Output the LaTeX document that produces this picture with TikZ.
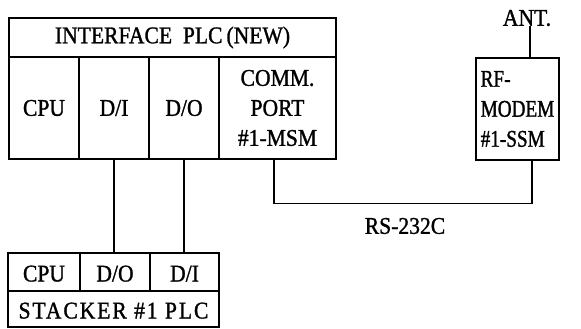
\documentclass[tikz,border=0pt]{standalone}
\usepackage{fontspec}
\setmainfont{Liberation Serif}[FakeStretch=0.9, FakeBold=1.2]
\newfontfamily\narrowfont{Liberation Serif}[FakeStretch=0.8, FakeBold=1.2]
\begin{document}
\begin{tikzpicture}[x=1pt,y=-1pt,
  every node/.style={font=\fontsize{24}{30}\selectfont},
  cell/.style={draw, line width=1.2pt, inner sep=0pt, minimum height=#1},
  wire/.style={line width=1.2pt},
  lowtext/.style={text height=19pt, text depth=0pt}]
\useasboundingbox (0,0) rectangle (581,329);
% Interface PLC
\node[cell=39pt, minimum width=327pt] (title) at (172.5,37.5) {INTERFACE\ \ PLC\,(NEW)};
\node[cell=102pt, minimum width=70pt] (cpu1) at (44,108) {CPU};
\node[cell=102pt, minimum width=70pt] (di1) at (114,108) {D/I};
\node[cell=102pt, minimum width=70pt] (do1) at (184,108) {D/O};
\node[cell=102pt, minimum width=117pt, align=center] (comm) at (277.5,108) {COMM.\\PORT\\\#1-MSM};
% RF modem
\node[cell=102pt, minimum width=83pt, align=left, font=\fontsize{24}{30}\narrowfont] (modem) at (517.5,109) {RF-\\MODEM\\\#1-SSM};
\node[inner sep=0pt] (ant) at (527,18) {ANT.};
% Stacker PLC
\node[cell=38pt, minimum width=72pt, lowtext] (cpu2) at (44,272) {CPU};
\node[cell=38pt, minimum width=70pt, lowtext] (do2) at (115,272) {D/O};
\node[cell=38pt, minimum width=69pt, lowtext] (di2) at (184.5,272) {D/I};
\node[cell=36pt, minimum width=211pt, lowtext] (stk) at (113.5,309) {\addfontfeature{LetterSpace=8}STACKER \#1 PLC};
\node (rs) at (405,226) {RS-232C};
% connectors
\draw[wire] ([xshift=3pt]ant.south) -- ([xshift=3pt]ant.south |- modem.north);
\draw[wire] (di1.south) -- (di1.south |- do2.north);
\draw[wire] (do1.south) -- (do1.south |- di2.north);
\draw[wire] ([xshift=-3.5pt]comm.south) -- ++(0,44) -| ([xshift=14.5pt]modem.south);
\end{tikzpicture}
\end{document}
